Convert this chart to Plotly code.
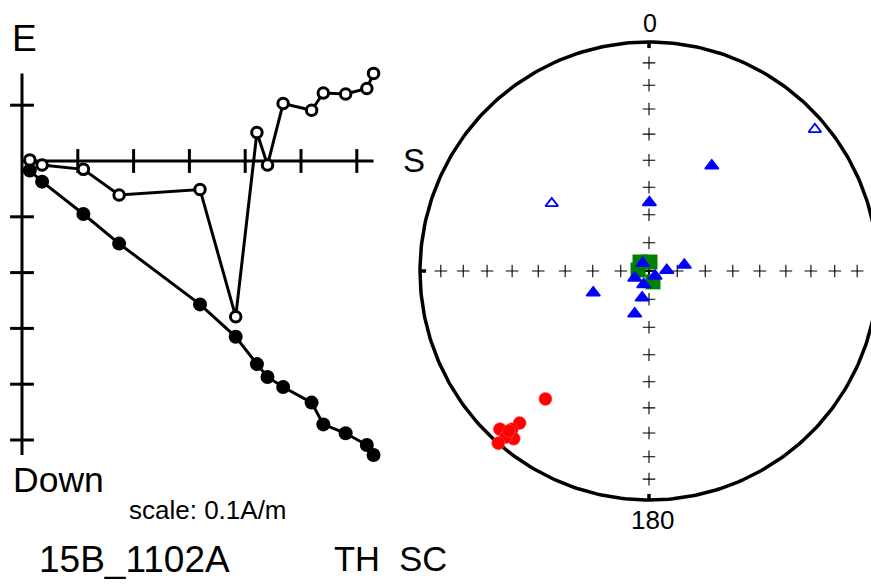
import numpy as np
import plotly.graph_objects as go

W, H = 871, 584

# ---------------- Zijderveld data (units of 0.1 A/m) ----------------
zij_s = [0.14, 0.36, 1.10, 1.74, 3.19, 3.83, 4.21, 4.40, 4.68, 5.19, 5.40, 5.80, 6.18, 6.30]
zij_down = [0.17, 0.37, 0.95, 1.48, 2.57, 3.15, 3.64, 3.87, 4.05, 4.33, 4.72, 4.88, 5.09, 5.27]
zij_east = [0.02, -0.07, -0.15, -0.61, -0.51, -2.79, 0.51, -0.07, 1.03, 0.91, 1.22, 1.20, 1.30, 1.57]
zij_xticks = [1, 2, 3, 4, 5, 6]
zij_yticks = [1, -1, -2, -3, -4, -5]

# ---------------- Equal-area stereonet data ----------------
red_dec = [219.0, 223.3, 220.4, 220.9, 218.9, 220.8, 221.2, 221.2]
red_inc = [28.9, 5.7, 13.9, 9.4, 6.6, 4.7, 0.1, 7.9]

tri_dec = [49.5, 304.8, 30.8, 0.3, 320.7, 87.7, 80.4, 243.9, 129.8, 201.4, 194.3, 198.5, 248.7]
tri_inc = [-5.3, -47.1, 45.5, 65.6, 86.5, 83.7, 77.3, 84.4, 87.2, 84.9, 80.2, 74.0, 68.7]

sq_dec = [315.0, 6.3, 275.2, 160.0]
sq_inc = [85.5, 86.8, 86.1, 85.9]

grid_inc = [90, 80, 70, 60, 50, 40, 30, 20, 10]
grid_dec = [0, 90, 180, 270]


def project(dec, inc):
    dec = np.radians(np.asarray(dec, dtype=float))
    inc = np.abs(np.asarray(inc, dtype=float))
    r = np.sqrt(2.0) * np.sin(np.radians(90.0 - inc) / 2.0)
    return r * np.sin(dec), r * np.cos(dec)


fig = go.Figure()

# ---- Zijderveld axes ----
xmax = max(zij_s)
ytop = max(zij_east)
ybot = -max(zij_down)
fig.add_trace(go.Scatter(x=[0, xmax], y=[0, 0], mode="lines",
                         line=dict(color="black", width=3), xaxis="x", yaxis="y",
                         hoverinfo="skip"))
fig.add_trace(go.Scatter(x=[0, 0], y=[ytop, ybot], mode="lines",
                         line=dict(color="black", width=3), xaxis="x", yaxis="y",
                         hoverinfo="skip"))
fig.add_trace(go.Scatter(x=zij_xticks, y=[0] * len(zij_xticks), mode="markers",
                         marker=dict(symbol="line-ns", size=17,
                                     line=dict(color="black", width=3)),
                         xaxis="x", yaxis="y", hoverinfo="skip"))
fig.add_trace(go.Scatter(x=[0] * len(zij_yticks), y=zij_yticks, mode="markers",
                         marker=dict(symbol="line-ew", size=17,
                                     line=dict(color="black", width=3)),
                         xaxis="x", yaxis="y", hoverinfo="skip"))

# filled: vertical projection (Down)
fig.add_trace(go.Scatter(x=zij_s, y=[-d for d in zij_down], mode="lines+markers",
                         line=dict(color="black", width=3),
                         marker=dict(symbol="circle", size=14, color="black"),
                         xaxis="x", yaxis="y"))
# open: horizontal projection (E)
fig.add_trace(go.Scatter(x=zij_s, y=zij_east, mode="lines+markers",
                         line=dict(color="black", width=3),
                         marker=dict(symbol="circle", size=10.5, color="white",
                                     line=dict(color="black", width=3)),
                         xaxis="x", yaxis="y"))

# ---- Stereonet ----
th = np.linspace(0, 2 * np.pi, 361)
fig.add_trace(go.Scatter(x=np.cos(th), y=np.sin(th), mode="lines",
                         line=dict(color="black", width=3.5),
                         xaxis="x2", yaxis="y2", hoverinfo="skip"))
# cardinal ticks on the primitive
for d in grid_dec:
    tx, ty = project([d, d], [0, 3])
    fig.add_trace(go.Scatter(x=tx, y=ty, mode="lines",
                             line=dict(color="black", width=3.5),
                             xaxis="x2", yaxis="y2", hoverinfo="skip"))
# crosses along N-S and E-W
cd, ci = [], []
for d in grid_dec:
    for i in grid_inc:
        cd.append(d)
        ci.append(i)
cx, cy = project(cd, ci)
fig.add_trace(go.Scatter(x=cx, y=cy, mode="markers",
                         marker=dict(symbol="cross-thin", size=9,
                                     line=dict(color="black", width=1.1)),
                         xaxis="x2", yaxis="y2", hoverinfo="skip"))

# green squares
sx, sy = project(sq_dec, sq_inc)
fig.add_trace(go.Scatter(x=sx, y=sy, mode="markers",
                         marker=dict(symbol="square", size=15, color="green"),
                         xaxis="x2", yaxis="y2"))

# blue triangles (filled = down, open = up)
tri_dec_a = np.array(tri_dec)
tri_inc_a = np.array(tri_inc)
dn = tri_inc_a >= 0
tx, ty = project(tri_dec_a[dn], tri_inc_a[dn])
fig.add_trace(go.Scatter(x=tx, y=ty, mode="markers",
                         marker=dict(symbol="triangle-up", size=12, color="blue",
                                     line=dict(color="blue", width=1.5)),
                         xaxis="x2", yaxis="y2"))
tx, ty = project(tri_dec_a[~dn], tri_inc_a[~dn])
fig.add_trace(go.Scatter(x=tx, y=ty, mode="markers",
                         marker=dict(symbol="triangle-up-open", size=11, color="blue",
                                     line=dict(color="blue", width=1.8)),
                         xaxis="x2", yaxis="y2"))

# red circles
rx, ry = project(red_dec, red_inc)
fig.add_trace(go.Scatter(x=rx, y=ry, mode="markers",
                         marker=dict(symbol="circle", size=13, color="red",
                                     line=dict(color="#ff5050", width=0.6)),
                         xaxis="x2", yaxis="y2"))

# ---- layout geometry (pixels) ----
zx0, zy0, zsc = 22.0, 161.0, 55.8      # Zijderveld origin & px per unit
zdom_x = (0.0, 400.0)
zdom_y = (30.0, 480.0)
scx, scy, R = 649.0, 271.0, 229.0       # stereonet centre & radius
sdom_x = (400.0, 871.0)
sdom_y = (0.0, 584.0)

ann = []


def txt(t, px, py, size, xanchor="center"):
    ann.append(dict(text=t, x=px / W, y=1 - py / H, xref="paper", yref="paper",
                    showarrow=False, xanchor=xanchor, yanchor="middle",
                    font=dict(size=size, color="black",
                              family="Liberation Sans, Arial, sans-serif")))


txt("E", 24, 38, 37)
txt("S", 414, 160, 33)
txt("Down", 58, 480, 35.5)
txt("scale: 0.1A/m", 208, 510, 26)
txt("15B_1102A", 134, 559, 37)
txt("TH\u00a0\u00a0SC", 390, 559, 34.5)
txt("0", 650, 23, 25)
txt("180", 652, 520, 26)

fig.update_layout(
    width=W, height=H, margin=dict(l=0, r=0, t=0, b=0),
    paper_bgcolor="white", plot_bgcolor="rgba(0,0,0,0)",
    showlegend=False, annotations=ann,
    xaxis=dict(domain=[zdom_x[0] / W, zdom_x[1] / W],
               range=[(zdom_x[0] - zx0) / zsc, (zdom_x[1] - zx0) / zsc],
               visible=False, fixedrange=True),
    yaxis=dict(domain=[1 - zdom_y[1] / H, 1 - zdom_y[0] / H],
               range=[(zy0 - zdom_y[1]) / zsc, (zy0 - zdom_y[0]) / zsc],
               visible=False, fixedrange=True),
    xaxis2=dict(domain=[sdom_x[0] / W, sdom_x[1] / W],
                range=[(sdom_x[0] - scx) / R, (sdom_x[1] - scx) / R],
                visible=False, fixedrange=True, anchor="y2"),
    yaxis2=dict(domain=[1 - sdom_y[1] / H, 1 - sdom_y[0] / H],
                range=[(scy - sdom_y[1]) / R, (scy - sdom_y[0]) / R],
                visible=False, fixedrange=True, anchor="x2"),
)

fig.write_html("out.html", config={"displayModeBar": False},
               post_script="document.body.style.margin='0';")
